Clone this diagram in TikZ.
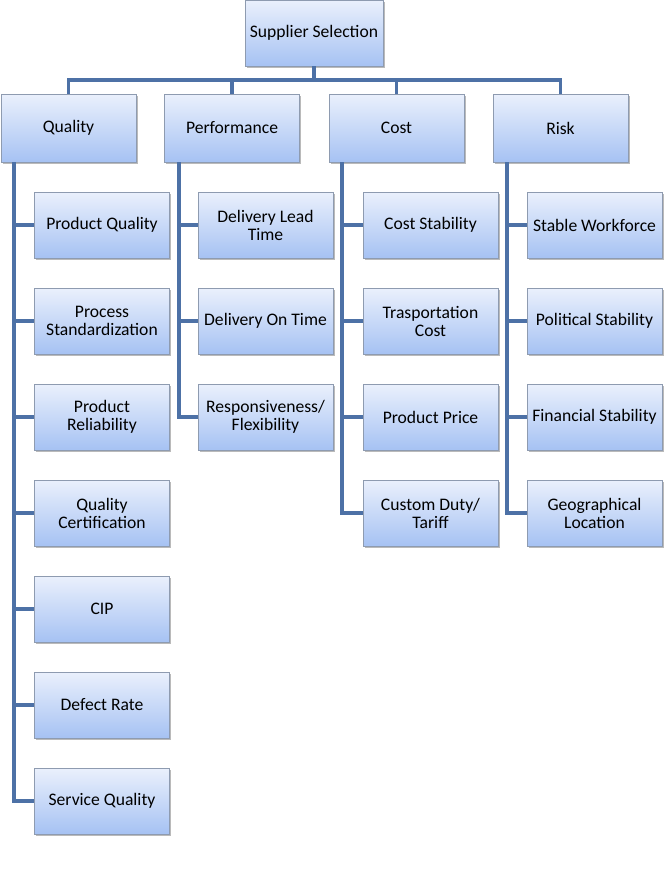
\documentclass[tikz,border=0pt]{standalone}
\usepackage{fontspec}
\setmainfont{Carlito}
\usetikzlibrary{shadows}
\definecolor{boxtop}{HTML}{EAF0FC}
\definecolor{boxbot}{HTML}{A6C2F3}
\definecolor{boxline}{HTML}{8E9BB0}
\definecolor{conn}{HTML}{4D71A6}
\tikzset{
  box/.style={rectangle, draw=boxline, line width=0.8pt, top color=boxtop, bottom color=boxbot,
    minimum width=135pt, minimum height=66pt, inner sep=0pt, align=center,
    font=\fontsize{17.6}{18}\selectfont, text=black,
    drop shadow={shadow xshift=1.5pt, shadow yshift=-1.8pt, opacity=0.45, fill=black!60}},
  link/.style={draw=conn, line width=3.4pt}
}
\begin{document}
\begin{tikzpicture}[x=1pt,y=-1pt]
\useasboundingbox (0,0) rectangle (667,879);
\coordinate (bar) at (314,80);
% nodes
\node[box, minimum width=138pt] (top) at (314,33) {Supplier Selection};
\node[box, minimum height=68pt] (q) at (68.5,128) {Quality};
\node[box, minimum height=68pt] (p) at (232,128) {Performance};
\node[box, minimum height=68pt] (c) at (396.5,128) {Cost};
\node[box, minimum height=68pt] (r) at (560.5,128) {Risk};

\node[box] (q1) at (102,225) {Product Quality};
\node[box] (q2) at (102,321) {Process\\Standardization};
\node[box] (q3) at (102,417) {Product\\Reliability};
\node[box] (q4) at (102,513) {Quality\\Certification};
\node[box] (q5) at (102,609) {CIP};
\node[box] (q6) at (102,705) {Defect Rate};
\node[box] (q7) at (102,801) {Service Quality};

\node[box] (p1) at (265.5,225) {Delivery Lead\\Time};
\node[box] (p2) at (265.5,321) {Delivery On Time};
\node[box] (p3) at (265.5,417) {Responsiveness/\\Flexibility};

\node[box] (c1) at (430.5,225) {Cost Stability};
\node[box] (c2) at (430.5,321) {Trasportation\\Cost};
\node[box] (c3) at (430.5,417) {Product Price};
\node[box] (c4) at (430.5,513) {Custom Duty/\\Tariff};

\node[box] (r1) at (594.5,225) {Stable Workforce};
\node[box] (r2) at (594.5,321) {Political Stability};
\node[box] (r3) at (594.5,417) {Financial Stability};
\node[box] (r4) at (594.5,513) {Geographical\\Location};

% connectors
\draw[link] (top.south) -- (bar);
\draw[link] (q.north) |- (bar) -| (r.north);
\draw[link] (p.north) |- (bar);
\draw[link] (c.north) |- (bar);
\foreach \n in {q1,q2,q3,q4,q5,q6,q7}
  \draw[link] ([xshift=-54.5pt]q.south) |- (\n.west);
\foreach \n in {p1,p2,p3}
  \draw[link] ([xshift=-53pt]p.south) |- (\n.west);
\foreach \n in {c1,c2,c3,c4}
  \draw[link] ([xshift=-54.5pt]c.south) |- (\n.west);
\foreach \n in {r1,r2,r3,r4}
  \draw[link] ([xshift=-53.5pt]r.south) |- (\n.west);
\end{tikzpicture}
\end{document}
